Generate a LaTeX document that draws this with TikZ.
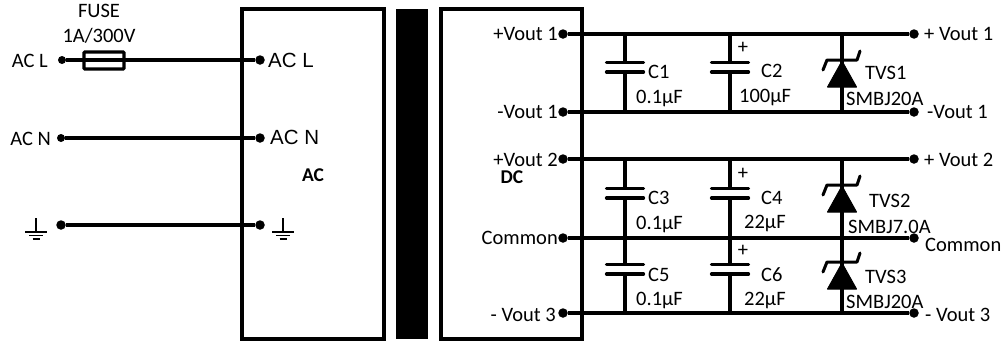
\documentclass[tikz,border=0pt]{standalone}
\usepackage{fontspec}
\setmainfont{Carlito}
\newfontfamily\armfont{Liberation Sans}
\tikzset{
  wire/.style={line width=3.2pt},
  frame/.style={line width=3.4pt},
  dot/.style={circle,fill=black,inner sep=0pt,minimum size=9.5pt},
  txt/.style={inner sep=0pt,font=\fontsize{20.5}{22}\selectfont},
  boldtxt/.style={inner sep=0pt,font=\bfseries\fontsize{19.5}{21}\selectfont},
  armtxt/.style={inner sep=0pt,font=\armfont\fontsize{20.5}{23}\selectfont}
}
% one capacitor: #1 x, #2 y of the lower plate
\newcommand{\capplates}[2]{
  \fill[white] (#1-3,#2-9.5) rectangle (#1+3,#2);
  \draw[wire,line cap=round] (#1-18.5,#2-9.5) -- (#1+18.5,#2-9.5);
  \draw[wire,line cap=round] (#1-18.5,#2) -- (#1+18.5,#2);
}
% one tvs: #1 x, #2 y of the bar
\newcommand{\tvsdiode}[2]{
  \fill[line join=round,draw=black,line width=1pt] (#1,#2+1) -- (#1+14.5,#2+27) -- (#1-14.5,#2+27) -- cycle;
  \draw[line width=3pt,line cap=round,line join=round] (#1-19,#2+10) -- (#1-15,#2) -- (#1+15,#2) -- (#1+18,#2-9);
}
% ground symbol: #2 is the y of the long bar
\newcommand{\gndsym}[2]{
  \draw[line width=1.5pt] (#1,#2-14) -- (#1,#2);
  \draw[line width=1.5pt] (#1-11,#2) -- (#1+11,#2);
  \draw[line width=1.5pt] (#1-7,#2+3.5) -- (#1+7,#2+3.5);
  \draw[line width=1.5pt] (#1-3.5,#2+7) -- (#1+3.5,#2+7);
}
\begin{document}
\begin{tikzpicture}[x=1pt,y=-1pt]
  \useasboundingbox (0,0) rectangle (1006,341);
  % boxes and core
  \draw[frame] (242,9) rectangle (384,339);
  \draw[frame] (441,9) rectangle (582,339);
  \fill (396,9) rectangle (428,339);

  % ac side
  \node[dot,minimum size=8pt] (linl) at (62,60) {};
  \node[dot] (linr) at (260,60) {};
  \node[dot,minimum size=8pt] (neul) at (61,138) {};
  \node[dot] (neur) at (260,138) {};
  \node[dot] (gndl) at (61,225) {};
  \node[dot] (gndr) at (260,225) {};
  \draw[wire] (linl) -- (linr);
  \draw[wire] (neul) -- (neur);
  \draw[wire] (gndl) -- (gndr);
  \node[draw,wire,rounded corners=1pt,minimum width=40pt,minimum height=17pt,inner sep=0pt] (fuse) at (104,60.5) {};
  \draw[line width=1.6pt] (fuse.west) -- (fuse.east);
  \node[txt] (fusename) at (99,11) {FUSE};
  \node[txt] (fuseval) at (99,36) {1A/300V};
  \node[txt,anchor=east] (linin) at (48,61) {AC L};
  \node[txt,anchor=east] (neuin) at (51,139) {AC N};
  \node[armtxt,anchor=west] (linout) at (268,60) {AC L};
  \node[armtxt,anchor=west] (neuout) at (270,137) {AC N};
  \node[boldtxt] (aclabel) at (313,175) {AC};
  \gndsym{36}{232}
  \gndsym{283}{232}

  % dc side rails
  \node[dot] (vaL) at (563,34) {};
  \node[dot] (vaR) at (914,34) {};
  \node[dot] (vbL) at (563,112) {};
  \node[dot] (vbR) at (914,112) {};
  \node[dot] (vcL) at (563,159) {};
  \node[dot] (vcR) at (914,159) {};
  \node[dot] (comL) at (563,238) {};
  \node[dot] (comR) at (914,238) {};
  \node[dot] (vdL) at (563,313) {};
  \node[dot] (vdR) at (914,313) {};
  \foreach \a in {va,vb,vc,com,vd}
    \draw[wire] (\a L) -- (\a R);

  % branches
  \foreach \x/\n in {625/ca,730/cb,842/cc}{
    \coordinate (\n t1) at (\x,34);
    \coordinate (\n b1) at (\x,112);
    \coordinate (\n t2) at (\x,159);
    \coordinate (\n b2) at (\x,313);
    \draw[wire] (\n t1) -- (\n b1);
    \draw[wire] (\n t2) -- (\n b2);
  }
  \capplates{625}{72}
  \capplates{730}{72}
  \capplates{625}{198}
  \capplates{730}{198}
  \capplates{625}{274}
  \capplates{730}{274}
  \tvsdiode{842}{60}
  \tvsdiode{842}{185}
  \tvsdiode{842}{262}

  % left labels
  \node[txt,anchor=east] (t1) at (558,34) {+Vout 1};
  \node[txt,anchor=east] (t2) at (558,112) {-Vout 1};
  \node[txt,anchor=east] (t3) at (558,160) {+Vout 2};
  \node[txt,anchor=east] (t4) at (558,238) {Common};
  \node[txt,anchor=east] (t5) at (556,315) {- Vout 3};
  \node[boldtxt] (dclabel) at (512,177) {DC};
  % right labels
  \node[txt,anchor=west] (r1) at (924,34) {+ Vout 1};
  \node[txt,anchor=west] (r2) at (927,112) {-Vout 1};
  \node[txt,anchor=west] (r3) at (924,160) {+ Vout 2};
  \node[txt,anchor=west] (r4) at (925,245) {Common};
  \node[txt,anchor=west] (r5) at (925,315) {- Vout 3};
  % part labels
  \node[txt,anchor=west] (c1) at (648,72) {C1};
  \node[txt,anchor=west] (c2) at (761,71) {C2};
  \node[txt,anchor=west] (c3) at (648,198) {C3};
  \node[txt,anchor=west] (c4) at (761,198) {C4};
  \node[txt,anchor=west] (c5) at (648,275) {C5};
  \node[txt,anchor=west] (c6) at (761,275) {C6};
  \node[txt,anchor=west] (v1) at (636,98) {0.1µF};
  \node[txt,anchor=west] (v2) at (739,97) {100µF};
  \node[txt,anchor=west] (v3) at (636,224) {0.1µF};
  \node[txt,anchor=west] (v4) at (744,223) {22µF};
  \node[txt,anchor=west] (v5) at (636,300) {0.1µF};
  \node[txt,anchor=west] (v6) at (744,300) {22µF};
  \node[txt] (p2) at (743,48) {+};
  \node[txt] (p4) at (743,174) {+};
  \node[txt] (p6) at (743,251) {+};
  \node[txt,anchor=west] (d1) at (865,73) {TVS1};
  \node[txt,anchor=west] (d2) at (869,201) {TVS2};
  \node[txt,anchor=west] (d3) at (865,277) {TVS3};
  \node[txt,anchor=west] (m1) at (846,99) {SMBJ20A};
  \node[txt,anchor=west] (m2) at (848,227) {SMBJ7.0A};
  \node[txt,anchor=west] (m3) at (846,302) {SMBJ20A};
\end{tikzpicture}
\end{document}
